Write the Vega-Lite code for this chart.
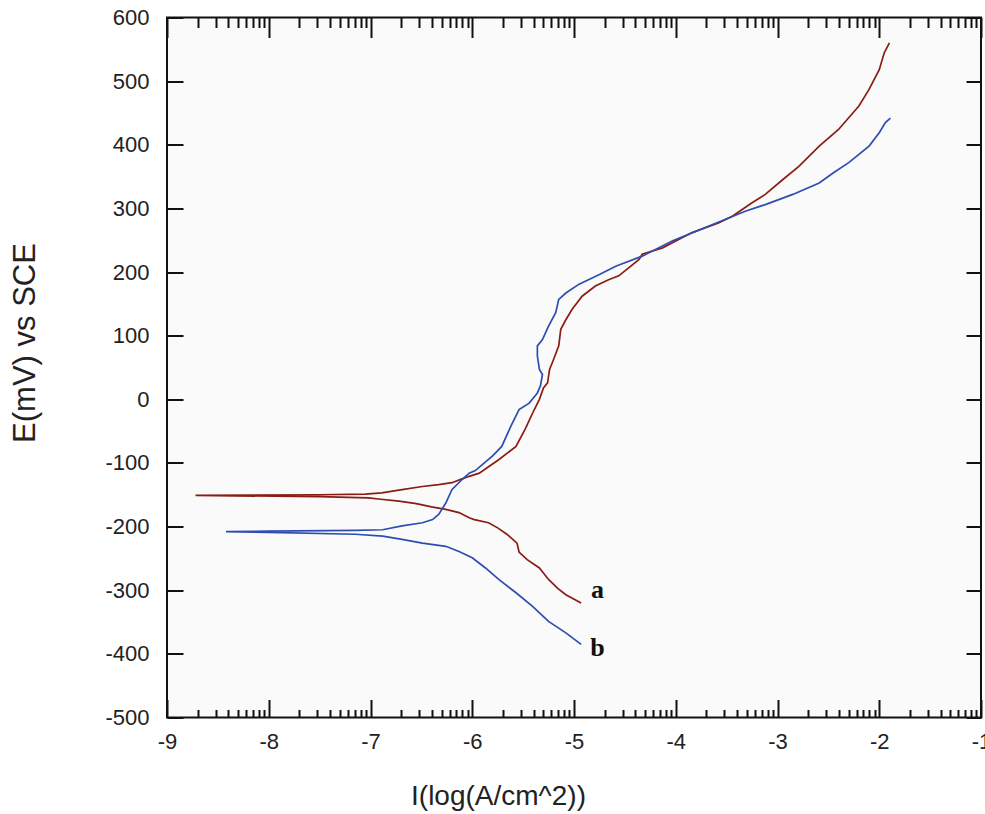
{
  "$schema": "https://vega.github.io/schema/vega-lite/v6.json",
  "autosize": {"type": "none"},
  "width": 814,
  "height": 700,
  "padding": {"left": 167, "top": 17.5, "right": 4, "bottom": 96.5},
  "background": "#ffffff",
  "config": {
    "view": {"stroke": "#111111", "strokeWidth": 2, "fill": "#fafafa"},
    "axis": {"grid": false, "domain": false, "labelFont": "Liberation Sans", "titleFont": "Liberation Sans", "labelColor": "#222", "titleColor": "#222", "tickColor": "#111", "tickWidth": 2, "labelFontWeight": "normal", "titleFontWeight": "normal"}
  },
  "datasets": {
    "curves": [
      {"s": "a", "n": 1, "logi": -4.93, "E": -320},
      {"s": "a", "n": 2, "logi": -5.08, "E": -307},
      {"s": "a", "n": 3, "logi": -5.16, "E": -297},
      {"s": "a", "n": 4, "logi": -5.25, "E": -283},
      {"s": "a", "n": 5, "logi": -5.34, "E": -265},
      {"s": "a", "n": 6, "logi": -5.46, "E": -252},
      {"s": "a", "n": 7, "logi": -5.54, "E": -240},
      {"s": "a", "n": 8, "logi": -5.56, "E": -226},
      {"s": "a", "n": 9, "logi": -5.66, "E": -212},
      {"s": "a", "n": 10, "logi": -5.75, "E": -202},
      {"s": "a", "n": 11, "logi": -5.84, "E": -194},
      {"s": "a", "n": 12, "logi": -5.98, "E": -189},
      {"s": "a", "n": 13, "logi": -6.03, "E": -186},
      {"s": "a", "n": 14, "logi": -6.13, "E": -178},
      {"s": "a", "n": 15, "logi": -6.26, "E": -173},
      {"s": "a", "n": 16, "logi": -6.40, "E": -169},
      {"s": "a", "n": 17, "logi": -6.55, "E": -164},
      {"s": "a", "n": 18, "logi": -6.72, "E": -160},
      {"s": "a", "n": 19, "logi": -6.90, "E": -157},
      {"s": "a", "n": 20, "logi": -7.02, "E": -155},
      {"s": "a", "n": 21, "logi": -7.50, "E": -153},
      {"s": "a", "n": 22, "logi": -8.72, "E": -151},
      {"s": "a", "n": 23, "logi": -7.50, "E": -150},
      {"s": "a", "n": 24, "logi": -7.05, "E": -149},
      {"s": "a", "n": 25, "logi": -6.89, "E": -147},
      {"s": "a", "n": 26, "logi": -6.69, "E": -142},
      {"s": "a", "n": 27, "logi": -6.49, "E": -137},
      {"s": "a", "n": 28, "logi": -6.33, "E": -134},
      {"s": "a", "n": 29, "logi": -6.20, "E": -131},
      {"s": "a", "n": 30, "logi": -6.10, "E": -125},
      {"s": "a", "n": 31, "logi": -6.03, "E": -121},
      {"s": "a", "n": 32, "logi": -5.93, "E": -116},
      {"s": "a", "n": 33, "logi": -5.84, "E": -106},
      {"s": "a", "n": 34, "logi": -5.74, "E": -95},
      {"s": "a", "n": 35, "logi": -5.57, "E": -74},
      {"s": "a", "n": 36, "logi": -5.48, "E": -47},
      {"s": "a", "n": 37, "logi": -5.39, "E": -16},
      {"s": "a", "n": 38, "logi": -5.34, "E": 0},
      {"s": "a", "n": 39, "logi": -5.30, "E": 18},
      {"s": "a", "n": 40, "logi": -5.26, "E": 26},
      {"s": "a", "n": 41, "logi": -5.24, "E": 47},
      {"s": "a", "n": 42, "logi": -5.20, "E": 63},
      {"s": "a", "n": 43, "logi": -5.15, "E": 84},
      {"s": "a", "n": 44, "logi": -5.13, "E": 110},
      {"s": "a", "n": 45, "logi": -5.08, "E": 125},
      {"s": "a", "n": 46, "logi": -5.02, "E": 141},
      {"s": "a", "n": 47, "logi": -4.92, "E": 162},
      {"s": "a", "n": 48, "logi": -4.79, "E": 178},
      {"s": "a", "n": 49, "logi": -4.66, "E": 188},
      {"s": "a", "n": 50, "logi": -4.56, "E": 194},
      {"s": "a", "n": 51, "logi": -4.36, "E": 220},
      {"s": "a", "n": 52, "logi": -4.33, "E": 228},
      {"s": "a", "n": 53, "logi": -4.13, "E": 238},
      {"s": "a", "n": 54, "logi": -3.84, "E": 262},
      {"s": "a", "n": 55, "logi": -3.58, "E": 277},
      {"s": "a", "n": 56, "logi": -3.44, "E": 288},
      {"s": "a", "n": 57, "logi": -3.25, "E": 309},
      {"s": "a", "n": 58, "logi": -3.12, "E": 322},
      {"s": "a", "n": 59, "logi": -2.95, "E": 345},
      {"s": "a", "n": 60, "logi": -2.79, "E": 366},
      {"s": "a", "n": 61, "logi": -2.59, "E": 398},
      {"s": "a", "n": 62, "logi": -2.40, "E": 424},
      {"s": "a", "n": 63, "logi": -2.20, "E": 461},
      {"s": "a", "n": 64, "logi": -2.10, "E": 487},
      {"s": "a", "n": 65, "logi": -2.00, "E": 518},
      {"s": "a", "n": 66, "logi": -1.95, "E": 545},
      {"s": "a", "n": 67, "logi": -1.90, "E": 560},
      {"s": "b", "n": 1, "logi": -4.93, "E": -385},
      {"s": "b", "n": 2, "logi": -5.08, "E": -367},
      {"s": "b", "n": 3, "logi": -5.25, "E": -349},
      {"s": "b", "n": 4, "logi": -5.41, "E": -325},
      {"s": "b", "n": 5, "logi": -5.57, "E": -304},
      {"s": "b", "n": 6, "logi": -5.74, "E": -283},
      {"s": "b", "n": 7, "logi": -5.87, "E": -265},
      {"s": "b", "n": 8, "logi": -6.00, "E": -249},
      {"s": "b", "n": 9, "logi": -6.13, "E": -239},
      {"s": "b", "n": 10, "logi": -6.26, "E": -231},
      {"s": "b", "n": 11, "logi": -6.49, "E": -226},
      {"s": "b", "n": 12, "logi": -6.69, "E": -220},
      {"s": "b", "n": 13, "logi": -6.88, "E": -215},
      {"s": "b", "n": 14, "logi": -7.15, "E": -212},
      {"s": "b", "n": 15, "logi": -8.00, "E": -209},
      {"s": "b", "n": 16, "logi": -8.42, "E": -208},
      {"s": "b", "n": 17, "logi": -8.00, "E": -207},
      {"s": "b", "n": 18, "logi": -7.15, "E": -206},
      {"s": "b", "n": 19, "logi": -6.88, "E": -205},
      {"s": "b", "n": 20, "logi": -6.69, "E": -199},
      {"s": "b", "n": 21, "logi": -6.49, "E": -194},
      {"s": "b", "n": 22, "logi": -6.39, "E": -189},
      {"s": "b", "n": 23, "logi": -6.33, "E": -181},
      {"s": "b", "n": 24, "logi": -6.26, "E": -163},
      {"s": "b", "n": 25, "logi": -6.20, "E": -142},
      {"s": "b", "n": 26, "logi": -6.10, "E": -126},
      {"s": "b", "n": 27, "logi": -6.03, "E": -116},
      {"s": "b", "n": 28, "logi": -5.97, "E": -112},
      {"s": "b", "n": 29, "logi": -5.80, "E": -89},
      {"s": "b", "n": 30, "logi": -5.71, "E": -74},
      {"s": "b", "n": 31, "logi": -5.62, "E": -42},
      {"s": "b", "n": 32, "logi": -5.54, "E": -16},
      {"s": "b", "n": 33, "logi": -5.44, "E": -6},
      {"s": "b", "n": 34, "logi": -5.36, "E": 10},
      {"s": "b", "n": 35, "logi": -5.33, "E": 21},
      {"s": "b", "n": 36, "logi": -5.31, "E": 39},
      {"s": "b", "n": 37, "logi": -5.34, "E": 47},
      {"s": "b", "n": 38, "logi": -5.36, "E": 68},
      {"s": "b", "n": 39, "logi": -5.36, "E": 84},
      {"s": "b", "n": 40, "logi": -5.31, "E": 94},
      {"s": "b", "n": 41, "logi": -5.25, "E": 115},
      {"s": "b", "n": 42, "logi": -5.18, "E": 136},
      {"s": "b", "n": 43, "logi": -5.15, "E": 157},
      {"s": "b", "n": 44, "logi": -5.08, "E": 167},
      {"s": "b", "n": 45, "logi": -4.95, "E": 181},
      {"s": "b", "n": 46, "logi": -4.75, "E": 196},
      {"s": "b", "n": 47, "logi": -4.59, "E": 209},
      {"s": "b", "n": 48, "logi": -4.33, "E": 225},
      {"s": "b", "n": 49, "logi": -4.03, "E": 249},
      {"s": "b", "n": 50, "logi": -3.71, "E": 270},
      {"s": "b", "n": 51, "logi": -3.51, "E": 283},
      {"s": "b", "n": 52, "logi": -3.31, "E": 296},
      {"s": "b", "n": 53, "logi": -3.12, "E": 306},
      {"s": "b", "n": 54, "logi": -2.85, "E": 322},
      {"s": "b", "n": 55, "logi": -2.59, "E": 340},
      {"s": "b", "n": 56, "logi": -2.45, "E": 356},
      {"s": "b", "n": 57, "logi": -2.30, "E": 372},
      {"s": "b", "n": 58, "logi": -2.10, "E": 398},
      {"s": "b", "n": 59, "logi": -2.00, "E": 419},
      {"s": "b", "n": 60, "logi": -1.94, "E": 435},
      {"s": "b", "n": 61, "logi": -1.89, "E": 442}
    ],
    "labels": [
      {"s": "a", "logi": -4.77, "E": -299},
      {"s": "b", "logi": -4.77, "E": -390}
    ]
  },
  "layer": [
    {
      "data": {"name": "curves"},
      "mark": {"type": "line", "strokeWidth": 1.7, "interpolate": "linear"},
      "encoding": {
        "x": {
          "field": "logi", "type": "quantitative",
          "scale": {"domain": [-9, -1], "nice": false, "zero": false},
          "axis": {
            "orient": "bottom",
            "values": [-9, -8.69897, -8.52288, -8.39794, -8.30103, -8.22185, -8.1549, -8.09691, -8.04576, -8, -7.69897, -7.52288, -7.39794, -7.30103, -7.22185, -7.1549, -7.09691, -7.04576, -7, -6.69897, -6.52288, -6.39794, -6.30103, -6.22185, -6.1549, -6.09691, -6.04576, -6, -5.69897, -5.52288, -5.39794, -5.30103, -5.22185, -5.1549, -5.09691, -5.04576, -5, -4.69897, -4.52288, -4.39794, -4.30103, -4.22185, -4.1549, -4.09691, -4.04576, -4, -3.69897, -3.52288, -3.39794, -3.30103, -3.22185, -3.1549, -3.09691, -3.04576, -3, -2.69897, -2.52288, -2.39794, -2.30103, -2.22185, -2.1549, -2.09691, -2.04576, -2, -1.69897, -1.52288, -1.39794, -1.30103, -1.22185, -1.1549, -1.09691, -1.04576, -1],
            "labelExpr": "datum.value % 1 === 0 ? '' + datum.value : ''",
            "tickSize": {"condition": {"test": "datum.value % 1 === 0", "value": -18}, "value": -8},
            "labelPadding": 42,
            "labelFontSize": 22,
            "labelBaseline": "middle",
            "labelOverlap": false,
            "labelFlush": false,
            "title": "I(log(A/cm^2))",
            "titleFontSize": 28,
            "titleX": 331,
            "titleY": 79,
            "titleAlign": "center",
            "titleBaseline": "middle"
          }
        },
        "y": {
          "field": "E", "type": "quantitative",
          "scale": {"domain": [-500, 600], "nice": false, "zero": false},
          "axis": {
            "orient": "left",
            "values": [-500, -400, -300, -200, -100, 0, 100, 200, 300, 400, 500, 600],
            "labelExpr": "'' + datum.value",
            "tickSize": -16,
            "labelPadding": 34,
            "labelFontSize": 22,
            "labelOverlap": false,
            "labelFlush": false,
            "title": "E(mV) vs SCE",
            "titleFontSize": 31,
            "titleAngle": -90,
            "titleX": -142,
            "titleY": 325,
            "titleAlign": "center",
            "titleBaseline": "middle"
          }
        },
        "color": {
          "field": "s", "type": "nominal",
          "scale": {"domain": ["a", "b"], "range": ["#8a1c14", "#2f4cb0"]},
          "legend": null
        },
        "order": {"field": "n", "type": "quantitative"}
      }
    },
    {
      "data": {"name": "labels"},
      "mark": {"type": "text", "font": "Liberation Serif", "fontWeight": "bold", "fontSize": 26, "align": "center", "baseline": "middle", "color": "#111"},
      "encoding": {
        "x": {
          "field": "logi", "type": "quantitative",
          "axis": {
            "orient": "top",
            "values": [-9, -8.69897, -8.52288, -8.39794, -8.30103, -8.22185, -8.1549, -8.09691, -8.04576, -8, -7.69897, -7.52288, -7.39794, -7.30103, -7.22185, -7.1549, -7.09691, -7.04576, -7, -6.69897, -6.52288, -6.39794, -6.30103, -6.22185, -6.1549, -6.09691, -6.04576, -6, -5.69897, -5.52288, -5.39794, -5.30103, -5.22185, -5.1549, -5.09691, -5.04576, -5, -4.69897, -4.52288, -4.39794, -4.30103, -4.22185, -4.1549, -4.09691, -4.04576, -4, -3.69897, -3.52288, -3.39794, -3.30103, -3.22185, -3.1549, -3.09691, -3.04576, -3, -2.69897, -2.52288, -2.39794, -2.30103, -2.22185, -2.1549, -2.09691, -2.04576, -2, -1.69897, -1.52288, -1.39794, -1.30103, -1.22185, -1.1549, -1.09691, -1.04576, -1],
            "labels": false,
            "tickSize": {"condition": {"test": "datum.value % 1 === 0", "value": -20}, "value": -10},
            "title": null
          }
        },
        "y": {
          "field": "E", "type": "quantitative",
          "axis": {
            "orient": "right",
            "values": [-500, -400, -300, -200, -100, 0, 100, 200, 300, 400, 500, 600],
            "labels": false,
            "tickSize": -15,
            "title": null
          }
        },
        "text": {"field": "s", "type": "nominal"}
      }
    }
  ],
  "resolve": {"axis": {"x": "independent", "y": "independent"}}
}
